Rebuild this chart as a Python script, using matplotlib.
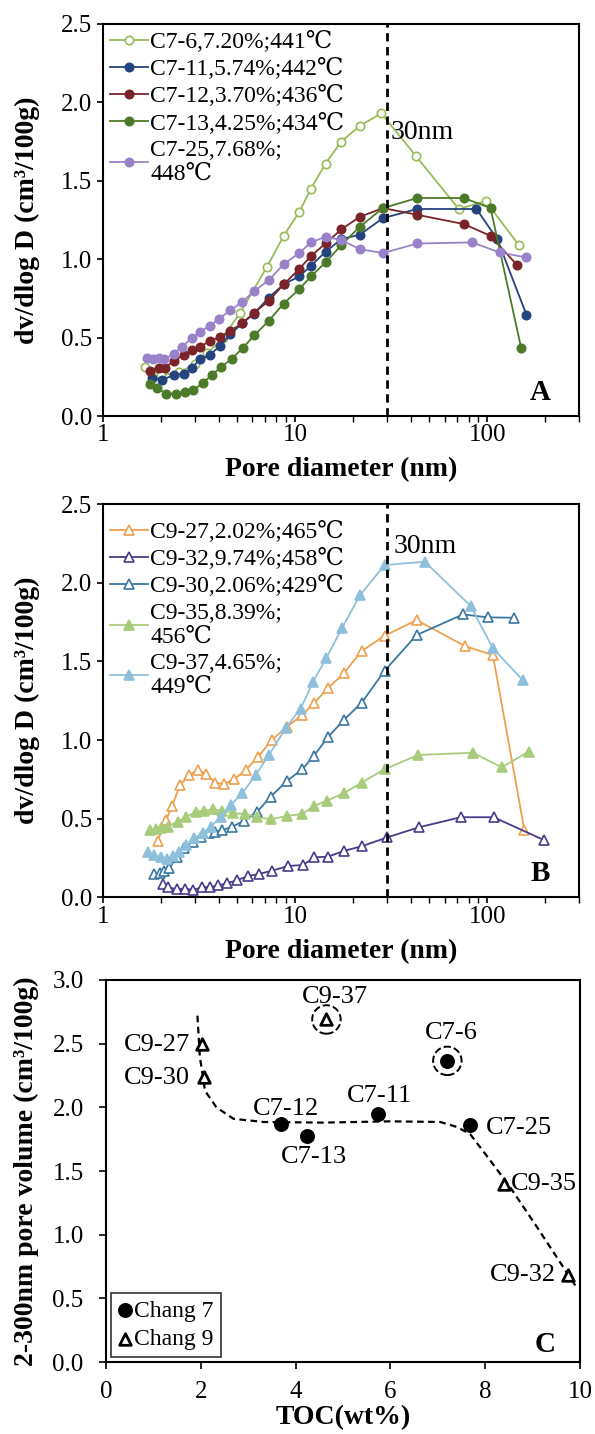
import numpy as np
import matplotlib
matplotlib.use('Agg')
import matplotlib.pyplot as plt

plt.rcParams['font.family'] = ['Liberation Serif', 'DejaVu Serif', 'DejaVu Sans']

# ---------------- panel A data (Chang 7) ----------------
c7_6_d = [1.66, 2.0, 2.5, 3.0, 3.5, 4.2, 5.19, 7.13, 8.73, 10.5, 12.1, 14.4, 17.4, 21.7, 28.1, 42.4, 71.1, 98, 146]
c7_6_v = [0.31, 0.26, 0.28, 0.33, 0.40, 0.50, 0.66, 0.95, 1.15, 1.30, 1.45, 1.61, 1.75, 1.85, 1.93, 1.66, 1.32, 1.37, 1.09]

c7_11_d = [1.80, 2.03, 2.33, 2.63, 2.91, 3.21, 3.59, 4.08, 4.60, 5.29, 6.09, 7.29, 8.73, 10.5, 12.1, 14.4, 17.4, 21.7, 28.7, 43.2, 87.9, 112.7, 160]
c7_11_v = [0.245, 0.228, 0.262, 0.270, 0.309, 0.362, 0.39, 0.447, 0.52, 0.59, 0.65, 0.755, 0.84, 0.89, 0.958, 1.047, 1.128, 1.156, 1.262, 1.32, 1.32, 1.128, 0.645]

c7_12_d = [1.76, 1.95, 2.11, 2.33, 2.63, 2.91, 3.21, 3.59, 4.08, 4.60, 5.29, 6.09, 7.29, 8.73, 10.5, 12.1, 14.4, 17.4, 21.7, 28.7, 43.2, 75.5, 104, 143]
c7_12_v = [0.29, 0.309, 0.309, 0.351, 0.39, 0.42, 0.44, 0.479, 0.504, 0.543, 0.59, 0.656, 0.734, 0.84, 0.937, 1.02, 1.10, 1.19, 1.27, 1.326, 1.283, 1.224, 1.149, 0.962]

c7_13_d = [1.76, 1.91, 2.14, 2.41, 2.68, 2.96, 3.32, 3.70, 4.12, 4.70, 5.36, 6.14, 7.29, 8.73, 10.5, 12.1, 14.4, 17.4, 21.7, 28.7, 43.2, 75.5, 104, 150]
c7_13_v = [0.202, 0.177, 0.143, 0.143, 0.155, 0.164, 0.213, 0.262, 0.313, 0.366, 0.436, 0.515, 0.607, 0.717, 0.809, 0.89, 0.979, 1.09, 1.207, 1.326, 1.39, 1.39, 1.326, 0.436]

c7_25_d = [1.69, 1.83, 1.95, 2.09, 2.33, 2.58, 2.91, 3.21, 3.59, 4.00, 4.60, 5.29, 6.09, 7.29, 8.73, 10.5, 12.1, 14.4, 17.4, 21.7, 28.7, 43.2, 83.5, 116, 160]
c7_25_v = [0.368, 0.362, 0.372, 0.362, 0.394, 0.443, 0.496, 0.538, 0.575, 0.617, 0.675, 0.724, 0.794, 0.866, 0.969, 1.039, 1.107, 1.143, 1.122, 1.064, 1.039, 1.10, 1.107, 1.043, 1.011]

# ---------------- panel B data (Chang 9) ----------------
c9_27_d = [1.93, 2.13, 2.29, 2.52, 2.81, 3.11, 3.43, 3.84, 4.27, 4.81, 5.53, 6.43, 7.55, 9.09, 10.9, 12.5, 14.8, 17.9, 22.2, 29.2, 42.9, 76.4, 107, 156]
c9_27_v = [0.36, 0.49, 0.58, 0.714, 0.777, 0.809, 0.784, 0.729, 0.72, 0.75, 0.809, 0.894, 1.0, 1.085, 1.159, 1.233, 1.329, 1.424, 1.566, 1.663, 1.763, 1.598, 1.54, 0.428]

c9_32_d = [2.06, 2.17, 2.42, 2.68, 2.95, 3.27, 3.60, 3.99, 4.44, 5.01, 5.71, 6.48, 7.60, 9.20, 11.0, 12.6, 14.8, 17.9, 22.4, 30.2, 44.1, 72.8, 108, 197]
c9_32_v = [0.085, 0.064, 0.051, 0.055, 0.046, 0.064, 0.064, 0.076, 0.089, 0.11, 0.135, 0.148, 0.169, 0.199, 0.205, 0.254, 0.258, 0.294, 0.326, 0.381, 0.445, 0.509, 0.509, 0.364]

c9_30_d = [1.85, 1.97, 2.09, 2.22, 2.42, 2.65, 2.93, 3.23, 3.57, 3.84, 4.19, 4.72, 5.42, 6.35, 7.46, 9.09, 10.9, 12.5, 14.8, 17.9, 22.2, 29.2, 42.9, 74.8, 101, 137]
c9_30_v = [0.148, 0.156, 0.169, 0.184, 0.258, 0.311, 0.353, 0.381, 0.411, 0.417, 0.428, 0.449, 0.487, 0.544, 0.64, 0.741, 0.814, 0.898, 1.017, 1.127, 1.237, 1.44, 1.668, 1.799, 1.78, 1.778]

c9_35_d = [1.75, 1.89, 2.01, 2.17, 2.45, 2.72, 3.05, 3.37, 3.75, 4.19, 4.76, 5.49, 6.35, 7.46, 9.09, 10.9, 12.5, 14.6, 17.9, 22.2, 29.2, 43.7, 84.3, 119, 164]
c9_35_v = [0.428, 0.432, 0.439, 0.449, 0.481, 0.512, 0.544, 0.551, 0.559, 0.551, 0.534, 0.53, 0.509, 0.496, 0.517, 0.53, 0.58, 0.614, 0.661, 0.729, 0.814, 0.905, 0.919, 0.826, 0.926]

c9_37_d = [1.71, 1.85, 2.01, 2.15, 2.32, 2.50, 2.72, 2.99, 3.30, 3.64, 4.11, 4.63, 5.31, 6.23, 7.31, 8.92, 10.7, 12.4, 14.5, 17.5, 21.8, 29.2, 47.4, 82, 107, 153]
c9_37_v = [0.29, 0.269, 0.254, 0.242, 0.263, 0.29, 0.333, 0.375, 0.407, 0.449, 0.512, 0.587, 0.661, 0.777, 0.905, 1.074, 1.20, 1.371, 1.519, 1.71, 1.922, 2.113, 2.134, 1.852, 1.583, 1.381]

# ---------------- panel C data ----------------
c7_names = ['C7-6', 'C7-11', 'C7-12', 'C7-13', 'C7-25']
c7_toc = [7.20, 5.74, 3.70, 4.25, 7.68]
c7_vol = [2.365, 1.946, 1.873, 1.775, 1.86]
c9_names = ['C9-27', 'C9-32', 'C9-30', 'C9-35', 'C9-37']
c9_toc = [2.02, 9.74, 2.06, 8.39, 4.65]
c9_vol = [2.50, 0.68, 2.24, 1.40, 2.69]
trend_x = [1.93, 1.98, 2.09, 2.33, 2.69, 3.32, 4.58, 5.99, 7.05, 7.40, 7.68, 8.10, 8.52, 9.09, 9.90]
trend_y = [2.72, 2.40, 2.13, 2.00, 1.91, 1.885, 1.88, 1.89, 1.885, 1.846, 1.79, 1.585, 1.375, 1.06, 0.60]
circled = ['C7-6', 'C9-37']

series_a = [
    ('C7-6,7.20%;441℃', c7_6_d, c7_6_v, '#9BBB59', 'o', True),
    ('C7-11,5.74%;442℃', c7_11_d, c7_11_v, '#24437F', 'o', False),
    ('C7-12,3.70%;436℃', c7_12_d, c7_12_v, '#7A2328', 'o', False),
    ('C7-13,4.25%;434℃', c7_13_d, c7_13_v, '#4D7A29', 'o', False),
    ('C7-25,7.68%;\n448℃', c7_25_d, c7_25_v, '#9A82CA', 'o', False),
]
series_b = [
    ('C9-27,2.02%;465℃', c9_27_d, c9_27_v, '#EEA04F', '^', True),
    ('C9-32,9.74%;458℃', c9_32_d, c9_32_v, '#4B3A8B', '^', True),
    ('C9-30,2.06%;429℃', c9_30_d, c9_30_v, '#3A77A1', '^', True),
    ('C9-35,8.39%;\n456℃', c9_35_d, c9_35_v, '#A8CC7C', '^', False),
    ('C9-37,4.65%;\n449℃', c9_37_d, c9_37_v, '#8EC0DD', '^', False),
]

fig = plt.figure(figsize=(5.95, 14.34), dpi=100)
axA = fig.add_axes([0.173, 0.7099, 0.800, 0.2734])
axB = fig.add_axes([0.173, 0.3743, 0.800, 0.2741])
axC = fig.add_axes([0.178, 0.0502, 0.797, 0.2664])

tick_fs = 18
lab_fs = 20


def psd_panel(ax, series, letter, ms, leg_top):
    for lab, d, v, col, mk, hollow in series:
        ax.plot(d, v, color=col, lw=1.3, marker=mk, ms=ms,
                mfc='white' if hollow else col, mec=col, mew=1.2, label=lab)
    ax.axvline(30, color='black', ls=(0, (3, 2)), lw=2)
    ax.set_xscale('log')
    ax.set_xlim(1, 300)
    ax.set_ylim(0, 2.5)
    ax.set_yticks(np.arange(0, 2.51, 0.5))
    ax.set_yticklabels(['%.1f' % t for t in np.arange(0, 2.51, 0.5)])
    ax.set_xticks([1, 10, 100])
    ax.set_xticklabels(['1', '10', '100'])
    ax.tick_params(axis='both', which='major', labelsize=tick_fs, direction='out', length=4, width=1.2)
    ax.tick_params(axis='y', pad=3.5)
    ax.tick_params(axis='x', pad=2)
    ax.tick_params(axis='x', which='minor', direction='out', length=4, width=1)
    for s in ax.spines.values():
        s.set_linewidth(1.5)
    ax.set_xlabel('Pore diameter (nm)', fontsize=lab_fs, fontweight='bold', labelpad=8)
    ax.set_ylabel('dv/dlog D (cm³/100g)', fontsize=lab_fs, fontweight='bold', labelpad=15)
    ax.text(0.918, 0.06, letter, transform=ax.transAxes, fontsize=21,
            fontweight='bold', ha='center', va='center')
    leg = ax.legend(loc='upper left', bbox_to_anchor=(0, leg_top), frameon=False,
                    fontsize=17, handlelength=1.6, handletextpad=0.1, labelspacing=0.22,
                    borderaxespad=0.1, borderpad=0.2)
    return leg


psd_panel(axA, series_a, 'A', 6, 1.0)
axA.text(31.5, 1.81, '30nm', fontsize=20, ha='left', va='center')
psd_panel(axB, series_b, 'B', 6.5, 0.975)
axB.text(32.5, 2.23, '30nm', fontsize=20, ha='left', va='center')

# ---------------- panel C ----------------
axC.plot(trend_x, trend_y, color='black', ls=(0, (3, 2)), lw=1.6, zorder=1)
axC.scatter(c7_toc, c7_vol, s=95, c='black', marker='o', zorder=3, label='Chang 7')
axC.scatter(c9_toc, c9_vol, s=70, facecolors='white', edgecolors='black',
            linewidths=2, marker='^', zorder=3, label='Chang 9')
allname = c7_names + c9_names
alltoc = c7_toc + c9_toc
allvol = c7_vol + c9_vol
for nm in circled:
    i = allname.index(nm)
    axC.scatter([alltoc[i]], [allvol[i]], s=420, facecolors='none', edgecolors='black',
                linewidths=1.4, linestyles='--', zorder=2)

label_pos = {
    'C7-6': (7.29, 2.58, 'center'), 'C7-11': (5.77, 2.09, 'center'),
    'C7-12': (3.79, 1.99, 'center'), 'C7-13': (4.39, 1.61, 'center'),
    'C7-25': (8.02, 1.84, 'left'), 'C9-27': (1.78, 2.49, 'right'),
    'C9-32': (9.50, 0.68, 'right'), 'C9-30': (1.78, 2.23, 'right'),
    'C9-35': (8.55, 1.40, 'left'), 'C9-37': (4.82, 2.87, 'center'),
}
for nm in allname:
    tx, ty, ha = label_pos[nm]
    axC.text(tx, ty, nm, fontsize=19, ha=ha, va='center')

axC.set_xlim(0, 10)
axC.set_ylim(0, 3.0)
axC.set_xticks(np.arange(0, 11, 2))
axC.set_yticks(np.arange(0, 3.01, 0.5))
axC.set_yticklabels(['%.1f' % t for t in np.arange(0, 3.01, 0.5)])
axC.tick_params(axis='both', labelsize=tick_fs, direction='out', length=5, width=1.2)
axC.tick_params(axis='y', pad=11)
axC.tick_params(axis='x', pad=9)
for s in axC.spines.values():
    s.set_linewidth(1.5)
axC.set_xlabel('TOC(wt%)', fontsize=lab_fs, fontweight='bold', labelpad=1)
axC.set_ylabel('2-300nm pore volume (cm³/100g)', fontsize=lab_fs, fontweight='bold', labelpad=10)
axC.text(0.926, 0.045, 'C', transform=axC.transAxes, fontsize=21,
         fontweight='bold', ha='center', va='center')
legC = axC.legend(loc='lower left', fontsize=17, fancybox=False, edgecolor='black',
                  handlelength=0.6, handletextpad=0.1, borderpad=0.3, labelspacing=0.3,
                  borderaxespad=0.2, scatterpoints=1)
legC.get_frame().set_linewidth(1.2)

fig.savefig('out.png', dpi=100)
